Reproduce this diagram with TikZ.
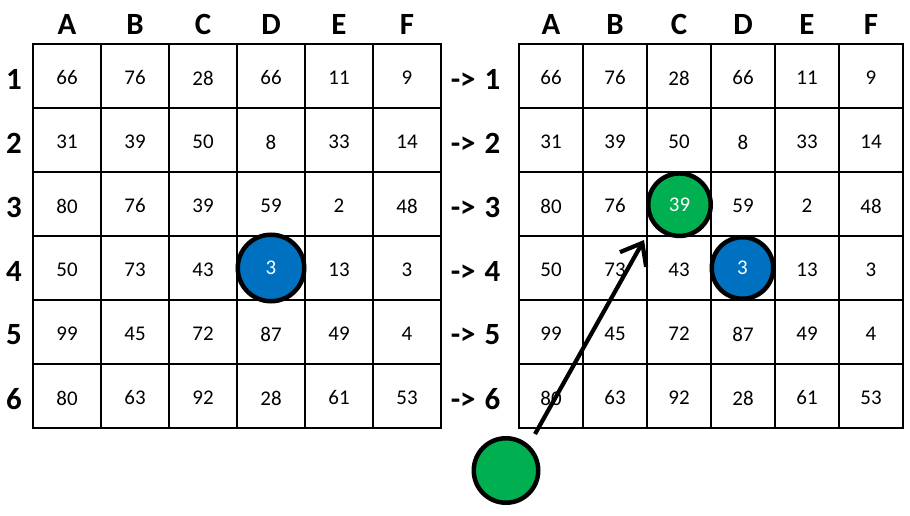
\documentclass[tikz,border=0pt]{standalone}
\usepackage{fontspec}
\setmainfont{Carlito}
\usetikzlibrary{arrows.meta}
\definecolor{cblue}{HTML}{0070C0}
\definecolor{cgreen}{HTML}{00B050}
\begin{document}
\begin{tikzpicture}[x=1bp,y=-1bp,
  cell/.style={inner sep=0pt,font=\fontsize{21}{21}\selectfont},
  hdr/.style={inner sep=0pt,font=\fontsize{31}{31}\selectfont\bfseries},
  inner/.style={line width=1.3bp,black},
  outer/.style={line width=2.6bp,black},
  dot/.style={circle,draw=black,line width=4.5bp,inner sep=0pt,text=white,font=\fontsize{21}{21}\selectfont},
  arr/.style={line width=4.2bp,-{Straight Barb[length=19bp,width=30bp]}}]
\useasboundingbox (0,0) rectangle (910,516);
\fill[white] (0,0) rectangle (910,516);
% left grid
\foreach \i in {1,...,5}{
  \draw[inner] ({33+68*\i},44) -- ({33+68*\i},428);
  \draw[inner] (33,{44+64*\i}) -- (441,{44+64*\i});
}
\draw[outer] (33,44) rectangle (441,428);
% right grid
\foreach \i in {1,...,5}{
  \draw[inner] ({519+64*\i},44) -- ({519+64*\i},428);
  \draw[inner] (519,{44+64*\i}) -- (903,{44+64*\i});
}
\draw[outer] (519,44) rectangle (903,428);
% headers
\foreach \l [count=\c] in {A,B,C,D,E,F}{
  \node[hdr] (LH\c) at ({33+68*(\c-0.5)},24.5) {\l};
  \node[hdr] (RH\c) at ({519+64*(\c-0.5)},24.5) {\l};
}
\foreach \r in {1,...,6}{
  \node[hdr] (LR\r) at (14,{44+64*(\r-0.5)+3}) {\r};
  \node[hdr] (RR\r) at (475.5,{44+64*(\r-0.5)+3}) {->\hspace{9bp}\r};
}
% cells
\foreach \r/\vals in {1/{66,76,28,66,11,9},2/{31,39,50,8,33,14},3/{80,76,39,59,2,48},
                      4/{50,73,43,3,13,3},5/{99,45,72,87,49,4},6/{80,63,92,28,61,53}}{
  \foreach \v [count=\c] in \vals {
    \pgfmathtruncatemacro\k{10*\r+\c}
    \ifnum\k=44\relax\else
      \node[cell] (L\r\c) at ({33+68*(\c-0.5)},{44+64*(\r-0.5)+2}) {\v};
    \fi
    \ifnum\k=44\relax\else\ifnum\k=33\relax\else
      \node[cell] (R\r\c) at ({519+64*(\c-0.5)},{44+64*(\r-0.5)+2}) {\v};
    \fi\fi
  }
}
% circles
\node[dot,fill=cblue,minimum size=66.5bp] (bL) at (271,268) {3};
\node[dot,fill=cblue,minimum size=61.5bp] (bR) at (742.5,268) {3};
\node[dot,fill=cgreen,minimum size=62.5bp] (gT) at (679.5,204.7) {39};
\node[dot,fill=cgreen,minimum size=64.5bp] (gB) at (506,470.5) {};
% arrow
\coordinate (aS) at (535,434);
\coordinate (aE) at (644,240);
\draw[arr] (aS) -- (aE);
\end{tikzpicture}
\end{document}
